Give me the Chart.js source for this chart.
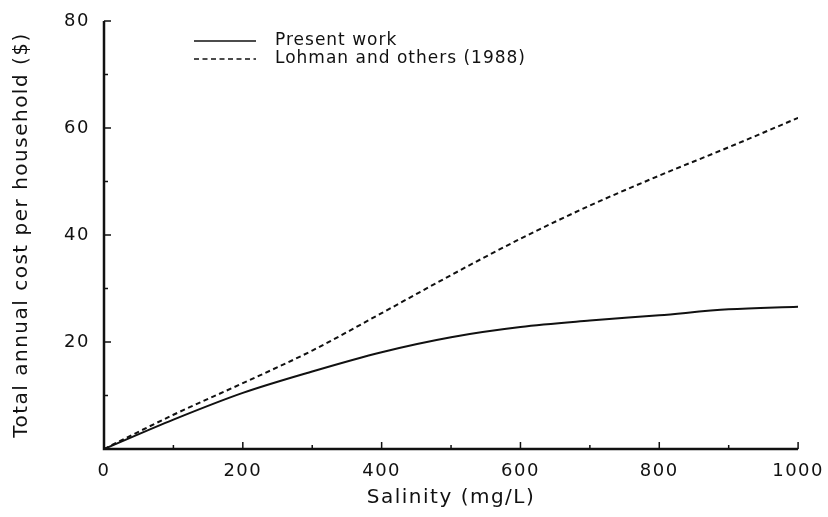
<!DOCTYPE html>
<html>
<head>
<meta charset="utf-8">
<script src="https://cdn.jsdelivr.net/npm/chart.js@4.4.1/dist/chart.umd.min.js"></script>
<style>
    html, body { margin: 0; padding: 0; background: #fff; }
    #wrap { width: 828px; height: 517px; }
</style>
</head>
<body>
<div id="wrap"><canvas id="graph-canvas" width="828" height="517"></canvas></div>
<script>
// salinity (mg/L)
const salinity = [0, 100, 200, 300, 400, 500, 600, 700, 800, 900, 1000];
// total annual cost per household ($)
const presentWork = [0, 5.5, 10.5, 14.5, 18.1, 20.9, 22.8, 24.0, 25.0, 26.1, 26.6];
const lohman1988 = [0, 6.4, 12.3, 18.4, 25.4, 32.5, 39.3, 45.5, 51.1, 56.4, 61.9];

const xMajorTicks = [0, 200, 400, 600, 800, 1000];
const xMinorTicks = [100, 300, 500, 700, 900];
const yMajorTicks = [20, 40, 60, 80];
const yMinorTicks = [10, 30, 50, 70];

const FONT = "'DejaVu Sans', sans-serif";
const INK = '#111';

function toPoints(values) {
    return salinity.map((x, i) => ({ x: x, y: values[i] }));
}

// wide, airy lettering; canvas state is reset on resize so set it per pass
const spacingPlugin = {
    id: 'spacingPlugin',
    beforeLayout(chart) { chart.ctx.letterSpacing = '1.5px'; },
    beforeDraw(chart) { chart.ctx.letterSpacing = '1.5px'; }
};

// axis lines with inward-pointing tick marks
const axesPlugin = {
    id: 'axesPlugin',
    afterDraw(chart) {
        const ctx = chart.ctx;
        const xs = chart.scales.x;
        const ys = chart.scales.y;
        const area = chart.chartArea;
        ctx.save();
        ctx.strokeStyle = INK;
        ctx.lineWidth = 2.5;
        ctx.beginPath();
        ctx.moveTo(area.left, area.top);
        ctx.lineTo(area.left, area.bottom);
        ctx.lineTo(area.right, area.bottom);
        ctx.stroke();

        ctx.lineWidth = 1.5;
        ctx.beginPath();
        xMajorTicks.forEach(v => {
            const px = xs.getPixelForValue(v);
            ctx.moveTo(px, area.bottom);
            ctx.lineTo(px, area.bottom - 7);
        });
        xMinorTicks.forEach(v => {
            const px = xs.getPixelForValue(v);
            ctx.moveTo(px, area.bottom);
            ctx.lineTo(px, area.bottom - 4);
        });
        yMajorTicks.forEach(v => {
            const py = ys.getPixelForValue(v);
            ctx.moveTo(area.left, py);
            ctx.lineTo(area.left + 7, py);
        });
        yMinorTicks.forEach(v => {
            const py = ys.getPixelForValue(v);
            ctx.moveTo(area.left, py);
            ctx.lineTo(area.left + 4, py);
        });
        ctx.stroke();
        ctx.restore();
    }
};

// legend drawn inside the plot, top left
const legendPlugin = {
    id: 'legendPlugin',
    afterDraw(chart) {
        const ctx = chart.ctx;
        ctx.save();
        ctx.font = '17px ' + FONT;
        ctx.letterSpacing = '1px';
        ctx.fillStyle = INK;
        ctx.textBaseline = 'middle';
        chart.data.datasets.forEach((ds, i) => {
            const y = 41 + i * 18;
            ctx.strokeStyle = ds.borderColor;
            ctx.lineWidth = 1.5;
            ctx.setLineDash(ds.borderDash || []);
            ctx.beginPath();
            ctx.moveTo(194, y);
            ctx.lineTo(256, y);
            ctx.stroke();
            ctx.fillText(ds.label, 275, y);
        });
        ctx.restore();
    }
};

const ctx = document.getElementById('graph-canvas').getContext('2d');

const chart = new Chart(ctx, {
    type: 'line',
    data: {
        datasets: [{
            label: 'Present work',
            data: toPoints(presentWork),
            borderColor: INK,
            borderWidth: 2,
            pointRadius: 0,
            cubicInterpolationMode: 'monotone',
            fill: false
        }, {
            label: 'Lohman and others (1988)',
            data: toPoints(lohman1988),
            borderColor: INK,
            borderWidth: 2,
            borderDash: [5, 3.5],
            pointRadius: 0,
            cubicInterpolationMode: 'monotone',
            fill: false
        }]
    },
    options: {
        responsive: false,
        animation: false,
        layout: { padding: { top: 21, right: 22, left: 0, bottom: 0 } },
        plugins: {
            legend: { display: false },
            tooltip: { enabled: false }
        },
        scales: {
            x: {
                type: 'linear',
                min: 0,
                max: 1000,
                grid: { display: false },
                border: { display: false },
                afterFit(scale) { scale.height = 68; },
                ticks: {
                    stepSize: 200,
                    padding: 4,
                    color: INK,
                    font: { family: FONT, size: 18 },
                    maxRotation: 0,
                    callback: v => String(v)
                },
                title: {
                    display: true,
                    text: 'Salinity (mg/L)',
                    color: INK,
                    font: { family: FONT, size: 20 },
                    padding: { top: 0, bottom: 7 }
                }
            },
            y: {
                min: 0,
                max: 80,
                grid: { display: false },
                border: { display: false },
                afterFit(scale) { scale.width = 104; },
                ticks: {
                    stepSize: 20,
                    padding: 6,
                    color: INK,
                    font: { family: FONT, size: 18 },
                    callback: v => (v === 0 ? '' : String(v))
                },
                title: {
                    display: true,
                    text: 'Total annual cost per household ($)',
                    color: INK,
                    font: { family: FONT, size: 20 },
                    padding: { top: 10, bottom: 0 }
                }
            }
        }
    },
    plugins: [spacingPlugin, axesPlugin, legendPlugin]
});
</script>
</body>
</html>
